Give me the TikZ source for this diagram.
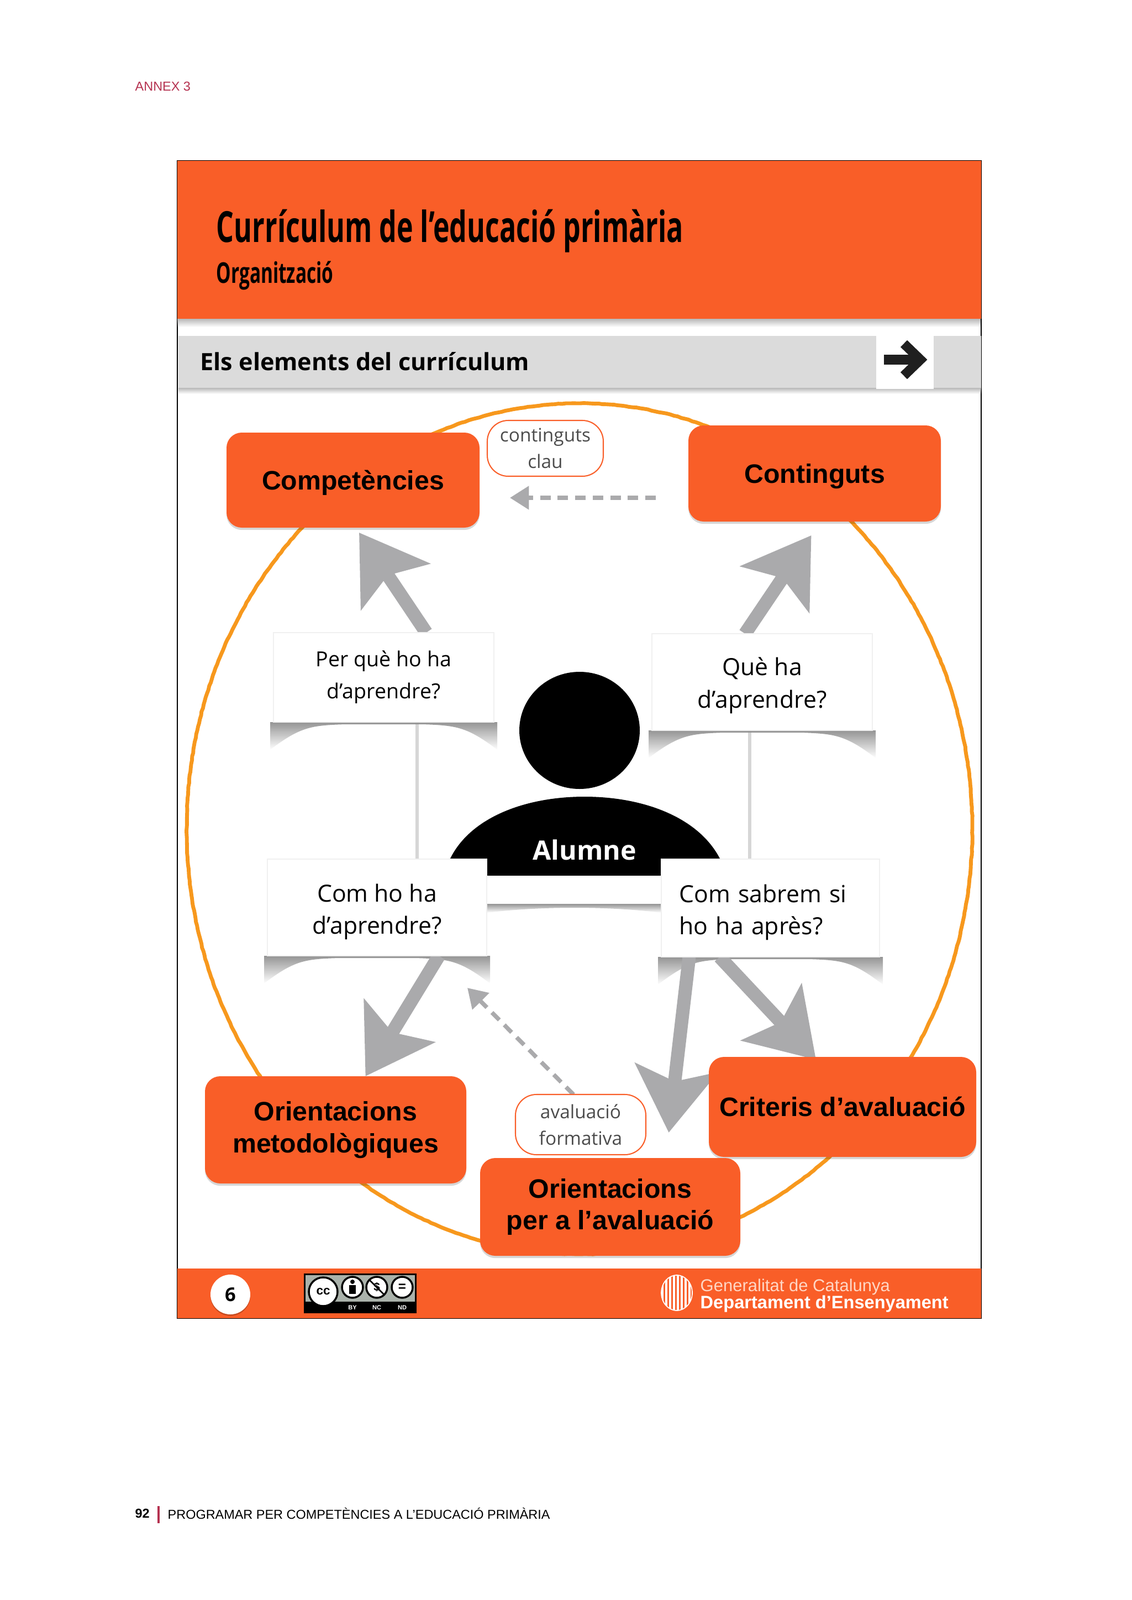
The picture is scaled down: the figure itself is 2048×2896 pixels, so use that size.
\documentclass[tikz,border=0pt]{standalone}
\usepackage{fontspec}
\setmainfont{Liberation Sans}
\newfontfamily\opensans{Open Sans}
\newfontfamily\condfont[FakeStretch=0.646]{Open Sans}
\usetikzlibrary{arrows.meta,calc,decorations.pathmorphing,fadings,shadows}
\definecolor{PageOrange}{RGB}{249,94,40}
\definecolor{RingOrange}{RGB}{247,152,29}
\definecolor{BandGray}{RGB}{219,219,219}
\definecolor{ArrowGray}{RGB}{170,170,172}
\definecolor{AnnexRed}{RGB}{181,50,80}
\definecolor{BadgeGray}{RGB}{170,178,171}
\definecolor{PalePeach}{RGB}{255,214,196}
\tikzset{
  boxsize/.style 2 args={minimum width=#1*0.29pt,minimum height=#2*0.29pt,inner sep=0pt,outer sep=0pt},
  orangebox/.style={fill=PageOrange,rounded corners=8pt,align=center,
    font=\fontsize{14}{16.6}\selectfont\bfseries,
    drop shadow={shadow xshift=0pt,shadow yshift=-1.2pt,opacity=.16,fill=black}},
  questionbox/.style={fill=white,draw=black!6,align=center,
    font=\opensans\fontsize{12.4}{17}\selectfont},
  notebox/.style={fill=white,draw=PageOrange,line width=.6pt,rounded corners=11pt,align=center,
    font=\opensans\color{black!70}\fontsize{9.7}{14}\selectfont},
  bigarrow/.style={line width=7pt,ArrowGray,-{Stealth[length=34pt,width=43pt,inset=7pt]}},
  dasharrow/.style={line width=2.2pt,ArrowGray,dash pattern=on 5.5pt off 3.7pt,
    -{Triangle[length=10pt,width=12pt]}},
  curlfill/.style={fill=black!42,path fading=south},
  edgefill/.style={fill=black!28,path fading=south},
  badgering/.style={draw=black,fill=white,line width=1pt},
  badgetext/.style={white,font=\fontsize{3.2}{4}\selectfont\bfseries}
}
\newcommand{\curlshadow}[1]{
  \fill[curlfill] ($(#1.south west)+(-6,0)$) -- ++(0,50)
    .. controls +(55,-42) and +(-60,2) .. ($(#1.south)+(-70,4)$)
    -- ($(#1.south)+(70,4)$)
    .. controls +(60,2) and +(-55,-42) .. ($(#1.south east)+(6,50)$)
    -- ($(#1.south east)+(6,0)$) -- cycle;
}
\newcommand{\lowertext}[1]{\rule{0pt}{#1}}
\pgfdeclarelayer{back}
\pgfsetlayers{back,main}
\begin{document}
\begin{tikzpicture}[x=0.29pt,y=-0.29pt]
  \useasboundingbox (0,0) rectangle (2048,2896);

  \node[anchor=west,AnnexRed,font=\fontsize{6.8}{8}\selectfont,inner sep=0pt] (annex) at (244,156) {ANNEX 3};
  \node[anchor=west,font=\fontsize{6.8}{8}\selectfont\bfseries,inner sep=0pt] (pagenum) at (244,2739) {92};
  \node[anchor=west,font=\fontsize{6.8}{8}\selectfont,inner sep=0pt] (booktitle) at (303,2739) {PROGRAMAR PER COMPETÈNCIES A L’EDUCACIÓ PRIMÀRIA};
  \draw[AnnexRed,line width=1pt] (287,2726) -- (287,2757);

  \fill[edgefill] (321,577) rectangle (1776,592);
  \fill[PageOrange] (321,291) rectangle (1776,577);
  \node[anchor=west,inner sep=0pt,font=\condfont\fontsize{22.5}{26}\selectfont\bfseries] (title) at (391,418) {Currículum de l’educació primària};
  \node[anchor=west,inner sep=0pt,font=\condfont\fontsize{15}{18}\selectfont\bfseries] (subtitle) at (391,499) {Organització};
  \fill[edgefill] (323,702) rectangle (1776,713);
  \fill[BandGray] (323,608) rectangle (1776,702);
  \fill[white] (1586,604) rectangle (1690,704);
  \node[anchor=west,inner sep=0pt,font=\opensans\fontsize{12.5}{14}\selectfont\bfseries] (bandtitle) at (362,654) {Els elements del currículum};
  \draw[black!88,line width=5pt] (1600,651) -- (1664,651);
  \draw[black!88,line width=5pt,line join=miter] (1636,622) -- (1666,651) -- (1636,680);
  \fill[PageOrange] (321,2296) rectangle (1776,2386);

  \node[orangebox,boxsize={458}{172},text depth=0pt] (compet) at (639,869) {Competències};
  \node[orangebox,boxsize={457}{174},text depth=0pt] (contin) at (1474.5,857) {Continguts};
  \node[orangebox,boxsize={473}{194}] (metod) at (607.5,2045) {Orientacions\\metodològiques};
  \node[orangebox,boxsize={484}{181}] (criteris) at (1525,2003.5) {Criteris d’avaluació};
  \node[orangebox,boxsize={471}{177}] (orient) at (1104.5,2184.5) {Orientacions\\per a l’avaluació};
  \node[notebox,boxsize={210}{101}] (clau) at (987,811.5) {continguts\\clau};
  \node[notebox,boxsize={236}{109}] (formativa) at (1051,2035.5) {avaluació\\formativa};

  \fill[black] (1049,1322) ellipse [x radius=109,y radius=106];
  \fill[black] (814,1556) .. controls (850,1480) and (950,1442) .. (1058,1442)
    .. controls (1166,1442) and (1266,1480) .. (1304,1556) -- (1304,1585) -- (814,1585) -- cycle;
  \node[white,inner sep=0pt,font=\opensans\fontsize{14}{17}\selectfont\bfseries] (alumne) at (1058,1538) {Alumne};
  \fill[white] (881,1585) rectangle (1197,1636);

  \node[questionbox,boxsize={399}{162},font=\opensans\fontsize{10.9}{16.8}\selectfont] (perque) at (694.5,1226) {Per què ho ha\\d’aprendre?};
  \node[questionbox,boxsize={399}{175}] (queha) at (1379.5,1234.5) {\lowertext{13pt}Què ha\\d’aprendre?};
  \node[questionbox,boxsize={397}{175}] (comho) at (682.5,1642.5) {\lowertext{14pt}Com ho ha\\d’aprendre?};
  \node[questionbox,boxsize={395}{177},align=left,text width=330*0.29pt] (comsab) at (1394.5,1643.5) {\lowertext{14pt}Com sabrem si\\ho ha après?};

  \node[circle,fill=white,boxsize={72}{72},font=\opensans\fontsize{10}{12}\selectfont\bfseries,
    drop shadow={shadow xshift=0pt,shadow yshift=-.8pt,opacity=.2,fill=black}] (pagesix) at (417,2343) {6};

  \begin{pgfonlayer}{back}
    \draw[line width=.6pt] (321,291) rectangle (1776,2386);
    \draw[RingOrange,line width=2pt,decorate,decoration={random steps,segment length=2pt,amplitude=.15pt}]
      (1049,1500) ellipse [x radius=711,y radius=770];
    \draw[black!16,line width=2pt] (755,1300) -- (755,1560);
    \draw[black!16,line width=2pt] (1357,1320) -- (1357,1560);
    \curlshadow{perque}
    \curlshadow{queha}
    \curlshadow{comho}
    \curlshadow{comsab}
    \fill[curlfill] (881,1636) -- (1197,1636) -- (1197,1652) .. controls (1100,1640) and (980,1640) .. (881,1652) -- cycle;
    \draw[bigarrow] ($(perque.north)+(77,0)$) -- ($(compet.south)+(11,9)$);
    \draw[bigarrow] ($(queha.north)+(-31,0)$) -- ($(contin.south)+(-6,25)$);
    \draw[bigarrow] ($(comho.south)+(112,0)$) -- ($(metod.north)+(54,0)$);
    \draw[bigarrow] ($(comsab.south)+(-147,0)$) -- ($(orient.north)+(106,-46)$);
    \draw[bigarrow] ($(comsab.south)+(-92,0)$) -- ($(criteris.north)+(-48,5)$);
    \coordinate (dashstart) at (1187,901);
    \coordinate (dashend) at (923,901);
    \coordinate (dashtip) at (846,1788);
    \draw[dasharrow] (dashstart) -- (dashend);
    \draw[dasharrow] ($(formativa.north)+(-13,0)$) -- (dashtip);
  \end{pgfonlayer}

  \fill[black] (550,2305) rectangle (754,2377);
  \fill[BadgeGray] (553,2308) rectangle (751,2356);
  \node[circle,badgering,boxsize={52}{52},font=\fontsize{6.5}{7}\selectfont\bfseries] (ccmark) at (585,2338) {cc};
  \node[circle,badgering,boxsize={38}{38}] (bymark) at (638,2330) {};
  \fill[black] (638,2320) circle [radius=4];
  \fill[black] (632,2326) rectangle (644,2342);
  \node[circle,badgering,boxsize={38}{38},font=\fontsize{6}{7}\selectfont\bfseries] (ncmark) at (682,2330) {\$};
  \draw[black,line width=.8pt] (ncmark.north west) -- (ncmark.south east);
  \node[circle,badgering,boxsize={38}{38},font=\fontsize{7}{7}\selectfont\bfseries] (ndmark) at (728,2330) {=};
  \node[badgetext] (bytext) at (638,2367) {BY};
  \node[badgetext] (nctext) at (682,2367) {NC};
  \node[badgetext] (ndtext) at (728,2367) {ND};

  \begin{scope}
    \clip (1225,2340) ellipse [x radius=28,y radius=32];
    \foreach \stripex in {1199,1206,...,1252}
      \draw[white,line width=.9pt] (\stripex,2300) -- (\stripex,2380);
  \end{scope}
  \draw[white,line width=.5pt] (1225,2340) ellipse [x radius=28,y radius=32];
  \node[anchor=west,PalePeach,inner sep=0pt,font=\fontsize{9}{10}\selectfont] (generalitat) at (1267,2329) {Generalitat de Catalunya};
  \node[anchor=west,white,inner sep=0pt,font=\fontsize{9.45}{10}\selectfont\bfseries] (departament) at (1267,2360) {Departament d’Ensenyament};
\end{tikzpicture}
\end{document}
